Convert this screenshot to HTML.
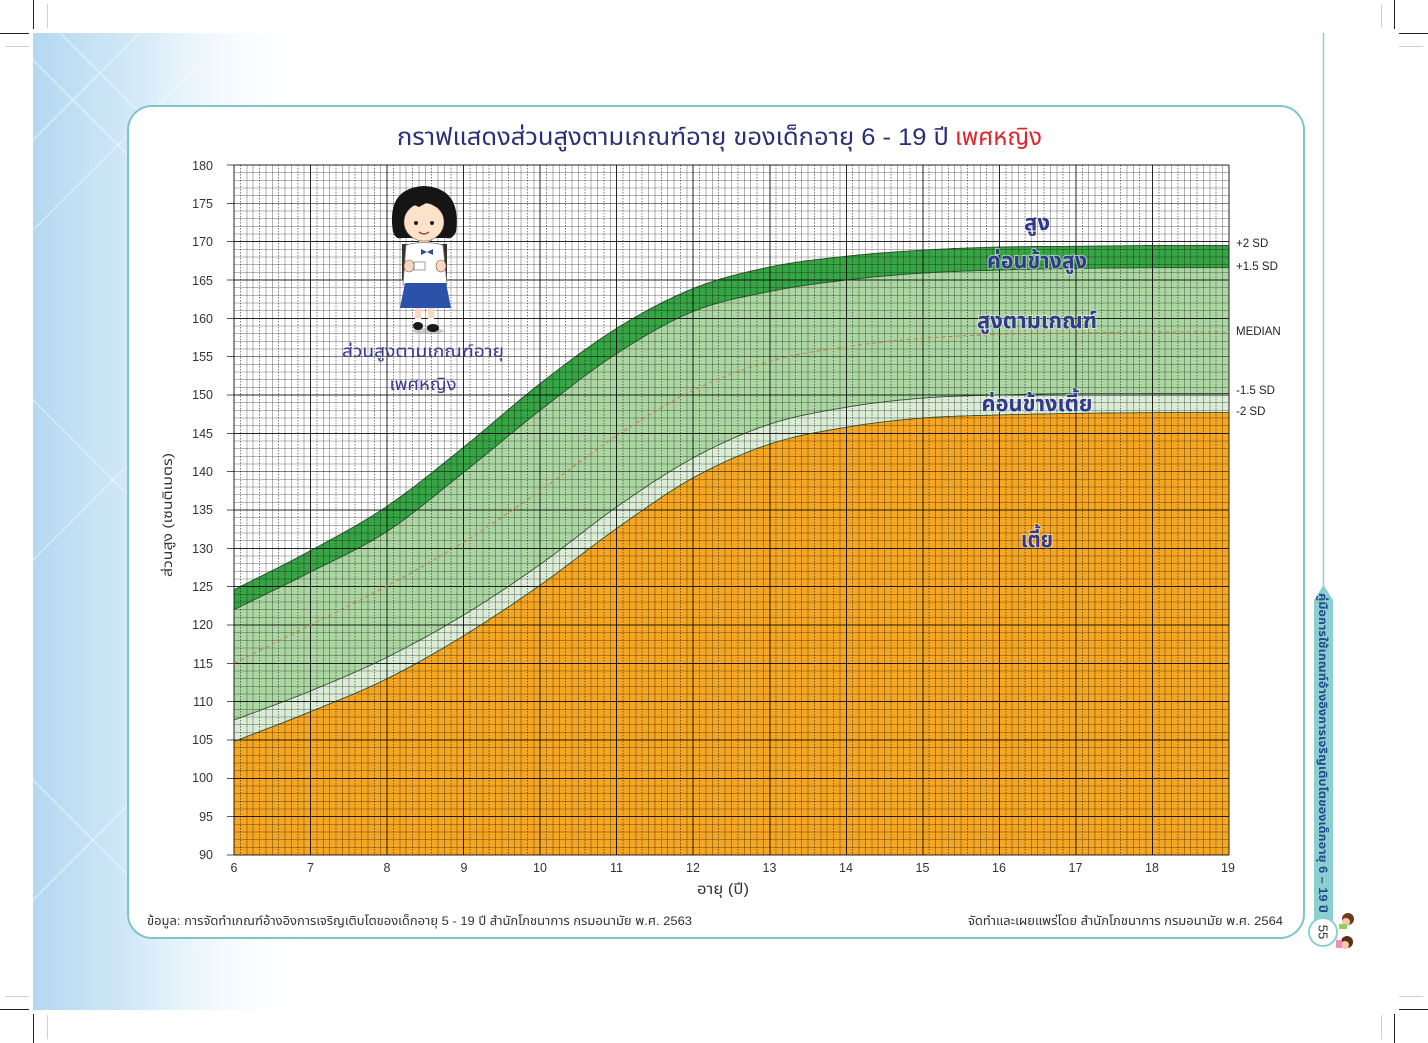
<!DOCTYPE html>
<html><head><meta charset="utf-8">
<style>
html,body{margin:0;padding:0;background:#fff;}
svg{display:block;}
.th{font-family:"Liberation Sans","Tahoma","Leelawadee UI","Noto Sans Thai","Noto Sans Thai UI","Garuda","Loma","Waree","Sarabun","Kinnari","Norasi","Umpush","DejaVu Sans",sans-serif;}
</style></head>
<body>
<svg id="s" width="1428" height="1043" viewBox="0 0 1428 1043" xmlns="http://www.w3.org/2000/svg">
<defs>
<linearGradient id="bg" x1="0" y1="0" x2="1" y2="0">
<stop offset="0" stop-color="#b3d8f1"/>
<stop offset="0.35" stop-color="#c9e4f6" stop-opacity="0.85"/>
<stop offset="1" stop-color="#ffffff" stop-opacity="0"/>
</linearGradient>
<clipPath id="lc"><rect x="33" y="33" width="280" height="977"/></clipPath>
</defs>
<rect width="1428" height="1043" fill="#fff"/>
<rect x="33" y="33" width="280" height="977" fill="url(#bg)"/>
<g clip-path="url(#lc)" stroke="#fff" stroke-opacity="0.45" stroke-width="1.5">
<line x1="33" y1="60" x2="200" y2="227"/>
<line x1="60" y1="33" x2="330" y2="303"/>
<line x1="140" y1="33" x2="33" y2="140"/>
<line x1="33" y1="230" x2="200" y2="63"/>
<line x1="33" y1="400" x2="200" y2="567"/>
<line x1="33" y1="560" x2="200" y2="393"/>
<line x1="33" y1="780" x2="200" y2="947"/>
<line x1="33" y1="900" x2="200" y2="733"/>
</g>
<g stroke="#222" stroke-width="1">
<line x1="33.5" y1="0" x2="33.5" y2="29"/><line x1="0" y1="33.5" x2="29" y2="33.5"/>
<line x1="1394.5" y1="0" x2="1394.5" y2="29"/><line x1="1399" y1="33.5" x2="1428" y2="33.5"/>
<line x1="33.5" y1="1014" x2="33.5" y2="1043"/><line x1="0" y1="1009.5" x2="29" y2="1009.5"/>
<line x1="1394.5" y1="1014" x2="1394.5" y2="1043"/><line x1="1399" y1="1009.5" x2="1428" y2="1009.5"/>
</g>
<g stroke="#cfcfcf" stroke-width="1">
<line x1="47.5" y1="4" x2="47.5" y2="28"/><line x1="5" y1="46.5" x2="29" y2="46.5"/>
<line x1="1381.5" y1="4" x2="1381.5" y2="28"/><line x1="1399" y1="46.5" x2="1423" y2="46.5"/>
<line x1="47.5" y1="1015" x2="47.5" y2="1039"/><line x1="5" y1="996.5" x2="29" y2="996.5"/>
<line x1="1381.5" y1="1015" x2="1381.5" y2="1039"/><line x1="1399" y1="996.5" x2="1423" y2="996.5"/>
</g>
<line x1="1323.5" y1="33" x2="1323.5" y2="590" stroke="#8ccfd0" stroke-width="1.5"/>
<path d="M1314,600 L1323.5,585 L1333,600 L1333,920 L1314,920 Z" fill="#8dcfd0"/>
<text class="th" transform="translate(1323,753) rotate(90)" text-anchor="middle" font-size="11.5" font-weight="bold" fill="#1f4c8e" dy="4" textLength="320" lengthAdjust="spacingAndGlyphs">คู่มือการใช้เกณฑ์อ้างอิงการเจริญเติบโตของเด็กอายุ 6 – 19 ปี</text>
<circle cx="1323" cy="932" r="14" fill="#fff" stroke="#8dcfd0" stroke-width="2"/>
<text class="th" transform="translate(1323,932) rotate(90)" text-anchor="middle" font-size="13" fill="#333" dy="4.5">55</text>
<g>
<circle cx="1348" cy="919" r="6" fill="#6b3b20"/><circle cx="1346" cy="922" r="4" fill="#f6c9a6"/><rect x="1339" y="924" width="8" height="5" fill="#8bd15a"/>
<circle cx="1347" cy="942" r="6" fill="#5a2e18"/><circle cx="1345" cy="945" r="4" fill="#f6c9a6"/><rect x="1336" y="940" width="6" height="8" fill="#f28bb5"/>
</g>
<rect x="128" y="106" width="1176" height="832" rx="24" ry="24" fill="#fff" stroke="#7fc4ca" stroke-width="2"/>

<g id="fills"></g>
<g id="grid" shape-rendering="crispEdges"></g>
<g id="lines"></g>

<text class="th" x="397" y="145" font-size="24" fill="#2c2f78" textLength="552" lengthAdjust="spacingAndGlyphs">กราฟแสดงส่วนสูงตามเกณฑ์อายุ ของเด็กอายุ 6 - 19 ปี</text>
<text class="th" x="955" y="145" font-size="24" fill="#e0262b" textLength="87" lengthAdjust="spacingAndGlyphs">เพศหญิง</text>

<g class="th" font-size="12.5" fill="#333" text-anchor="end">
<text x="213" y="170">180</text><text x="213" y="208">175</text><text x="213" y="246">170</text>
<text x="213" y="285">165</text><text x="213" y="323">160</text><text x="213" y="361">155</text>
<text x="213" y="399">150</text><text x="213" y="438">145</text><text x="213" y="476">140</text>
<text x="213" y="514">135</text><text x="213" y="553">130</text><text x="213" y="591">125</text>
<text x="213" y="629">120</text><text x="213" y="668">115</text><text x="213" y="706">110</text>
<text x="213" y="744">105</text><text x="213" y="782">100</text><text x="213" y="821">95</text>
<text x="213" y="859">90</text>
</g>
<text class="th" transform="translate(172,515) rotate(-90)" text-anchor="middle" font-size="13" fill="#333" textLength="124" lengthAdjust="spacingAndGlyphs">ส่วนสูง (เซนติเมตร)</text>
<g class="th" font-size="12.5" fill="#333" text-anchor="middle">
<text x="234" y="872">6</text><text x="310.5" y="872">7</text><text x="387" y="872">8</text>
<text x="464" y="872">9</text><text x="540" y="872">10</text><text x="616.5" y="872">11</text>
<text x="693" y="872">12</text><text x="769.5" y="872">13</text><text x="846" y="872">14</text>
<text x="922.5" y="872">15</text><text x="999" y="872">16</text><text x="1075.5" y="872">17</text>
<text x="1152" y="872">18</text><text x="1228" y="872">19</text>
</g>
<text class="th" x="723" y="894" text-anchor="middle" font-size="15" fill="#333" textLength="52" lengthAdjust="spacingAndGlyphs">อายุ (ปี)</text>
<text class="th" x="147" y="925" font-size="12" fill="#333" textLength="545" lengthAdjust="spacingAndGlyphs">ข้อมูล: การจัดทำเกณฑ์อ้างอิงการเจริญเติบโตของเด็กอายุ 5 - 19 ปี  สำนักโภชนาการ กรมอนามัย พ.ศ. 2563</text>
<text class="th" x="968" y="925" font-size="12" fill="#333" textLength="315" lengthAdjust="spacingAndGlyphs">จัดทำและเผยแพร่โดย สำนักโภชนาการ กรมอนามัย พ.ศ. 2564</text>
<g class="th" font-size="11.5" fill="#222">
<text x="1236" y="247">+2 SD</text>
<text x="1236" y="270">+1.5 SD</text>
<text x="1236" y="335">MEDIAN</text>
<text x="1236" y="394">-1.5 SD</text>
<text x="1236" y="415">-2 SD</text>
</g>
<g class="th" font-size="22" font-weight="bold" fill="#33398a" text-anchor="middle" stroke="#ffffff" stroke-opacity="0.55" stroke-width="2" paint-order="stroke">
<text x="1037" y="230" textLength="26" lengthAdjust="spacingAndGlyphs">สูง</text>
<text x="1037" y="268" textLength="100" lengthAdjust="spacingAndGlyphs">ค่อนข้างสูง</text>
<text x="1037" y="328" textLength="120" lengthAdjust="spacingAndGlyphs">สูงตามเกณฑ์</text>
<text x="1037" y="411" textLength="111" lengthAdjust="spacingAndGlyphs">ค่อนข้างเตี้ย</text>
<text x="1037" y="547" textLength="32" lengthAdjust="spacingAndGlyphs">เตี้ย</text>
</g>

<g>
<ellipse cx="428" cy="331" rx="16" ry="3" fill="#999" opacity="0.5"/>
<rect x="402" y="244" width="6" height="36" fill="#333"/>
<rect x="441" y="244" width="6" height="36" fill="#333"/>
<path d="M393,232 Q386,188 424,186 Q462,188 456,232 Q452,240 446,238 L402,238 Q396,240 393,232 Z" fill="#151515"/>
<rect x="419" y="238" width="10" height="8" fill="#fbdcc4"/>
<ellipse cx="424" cy="222" rx="20" ry="19" fill="#fde2cc" stroke="#7a5a48" stroke-width="0.6"/>
<path d="M401,216 Q401,191 424,191 Q449,191 449,215 L444,205 L436,207 L428,202 L419,207 L410,203 Z" fill="#151515"/>
<circle cx="416" cy="223" r="2" fill="#222"/><circle cx="432" cy="223" r="2" fill="#222"/>
<path d="M419,232 Q424,236 429,232" stroke="#8a3b2a" stroke-width="1.2" fill="none"/>
<path d="M406,245 Q424,240 443,245 L447,285 L403,285 Z" fill="#fff" stroke="#777" stroke-width="0.8"/>
<path d="M421,249 L427,252 L421,255 Z M433,249 L427,252 L433,255 Z" fill="#2b4aa0"/>
<rect x="414" y="262" width="11" height="8" fill="#fff" stroke="#888" stroke-width="0.8"/>
<ellipse cx="409" cy="266" rx="5" ry="6" fill="#fbd8c0" stroke="#7a5a48" stroke-width="0.6"/>
<ellipse cx="441" cy="266" rx="5" ry="6" fill="#fbd8c0" stroke="#7a5a48" stroke-width="0.6"/>
<path d="M405,283 L446,283 L451,308 L400,308 Z" fill="#2a52a8"/>
<rect x="415" y="308" width="6" height="12" fill="#fbd8c0"/>
<rect x="428" y="308" width="6" height="12" fill="#fbd8c0"/>
<rect x="415" y="318" width="6" height="5" fill="#fff"/>
<rect x="428" y="318" width="6" height="5" fill="#fff"/>
<ellipse cx="418" cy="326" rx="5" ry="4" fill="#1a1a1a"/>
<ellipse cx="433" cy="328" rx="6" ry="4" fill="#1a1a1a"/>
</g>
<text class="th" x="423" y="357" text-anchor="middle" font-size="17" fill="#3a3b8c" textLength="162" lengthAdjust="spacingAndGlyphs">ส่วนสูงตามเกณฑ์อายุ</text>
<text class="th" x="423" y="390" text-anchor="middle" font-size="17" fill="#3a3b8c" textLength="67" lengthAdjust="spacingAndGlyphs">เพศหญิง</text>
</svg>
<script>
(function(){
var X=function(a){return 234+(a-6)*995/13;};
var Y=function(v){return 165+(180-v)*690/90;};
var p2=[124.6,129.7,135.5,143.2,151.5,158.7,163.9,166.7,168.1,168.9,169.3,169.4,169.5,169.5];
var p15=[122.0,126.9,132.2,139.9,148.0,155.4,160.9,163.5,165.0,165.9,166.3,166.5,166.6,166.6];
var med=[115.0,120.0,125.1,130.8,137.5,144.7,150.6,154.4,156.3,157.4,157.9,158.1,158.2,158.2];
var m15=[107.6,111.4,115.8,121.3,127.9,135.4,141.8,146.2,148.4,149.6,150.0,150.2,150.2,150.2];
var m2=[104.8,108.7,113.0,118.6,125.2,132.6,139.2,143.6,145.8,147.0,147.4,147.6,147.7,147.7];
function interp(arr){
 var n=arr.length,d=[],m=[],i,k;
 for(i=0;i<n-1;i++)d.push(arr[i+1]-arr[i]);
 m[0]=d[0];m[n-1]=d[n-2];
 for(i=1;i<n-1;i++){m[i]=(d[i-1]+d[i])/2;}
 var pts=[];
 for(i=0;i<n-1;i++){for(k=0;k<20;k++){var t=k/20,t2=t*t,t3=t2*t;
  var v=(2*t3-3*t2+1)*arr[i]+(t3-2*t2+t)*m[i]+(-2*t3+3*t2)*arr[i+1]+(t3-t2)*m[i+1];
  pts.push([X(6+i+t),Y(v)]);}}
 pts.push([X(19),Y(arr[n-1])]);
 return pts;
}
function str(p){return p.map(function(q){return q[0].toFixed(1)+","+q[1].toFixed(1);}).join(" L");}
var A=interp(p2),B=interp(p15),M=interp(med),C=interp(m15),D=interp(m2);
function poly(top,bot,fill){return '<path d="M'+str(top)+' L'+str(bot.slice().reverse())+' Z" fill="'+fill+'"/>';}
var f='';
f+=poly(A,B,'#37a545');
f+=poly(B,C,'#acd7a3');
f+=poly(C,D,'#dcedd7');
f+='<path d="M'+str(D)+' L1229,855 L234,855 Z" fill="#f5a623"/>';
document.getElementById('fills').innerHTML=f;
var g='',i,y,x;
for(i=0;i<=90;i++){
 y=Y(90+i);
 var v=90+i;
 if(i%5===0){
  var op=(v===175||v===155||v===140)?0.5:0.85;
  g+='<line x1="234" y1="'+y.toFixed(2)+'" x2="1229" y2="'+y.toFixed(2)+'" stroke="#000" stroke-opacity="'+op+'"/>';
  g+='<line x1="227" y1="'+y.toFixed(2)+'" x2="234" y2="'+y.toFixed(2)+'" stroke="#555"/>';
 } else {
  g+='<line x1="234" y1="'+y.toFixed(2)+'" x2="1229" y2="'+y.toFixed(2)+'" stroke="#000" stroke-opacity="0.28"/>';
 }
}
for(i=0;i<=156;i++){
 x=234+i*995/156;
 if(i%12===0){
  g+='<line x1="'+x.toFixed(2)+'" y1="165" x2="'+x.toFixed(2)+'" y2="855" stroke="#000" stroke-opacity="0.85"/>';
 } else if(i%3===1){
  g+='<line x1="'+x.toFixed(2)+'" y1="165" x2="'+x.toFixed(2)+'" y2="855" stroke="#000" stroke-opacity="0.5" stroke-dasharray="1.5,1.5"/>';
 } else {
  g+='<line x1="'+x.toFixed(2)+'" y1="165" x2="'+x.toFixed(2)+'" y2="855" stroke="#000" stroke-opacity="0.3"/>';
 }
}
document.getElementById('grid').innerHTML=g;
var l='';
[A,B,C,D].forEach(function(P){l+='<path d="M'+str(P)+'" fill="none" stroke="#1c3a1c" stroke-width="0.9" stroke-opacity="0.85"/>';});
l+='<path d="M'+str(M)+'" fill="none" stroke="#c27a45" stroke-width="1" stroke-dasharray="4,3"/>';
document.getElementById('lines').innerHTML=l;
})();
</script>
</body></html>
